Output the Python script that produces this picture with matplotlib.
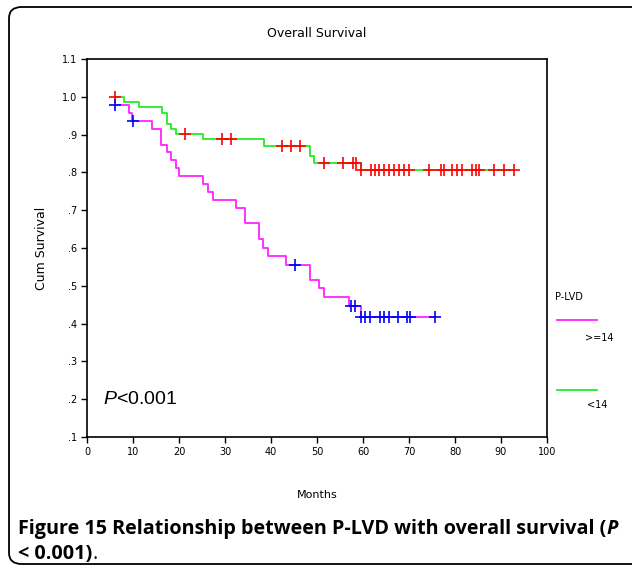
import numpy as np
import matplotlib
matplotlib.use('Agg')
import matplotlib.pyplot as plt
from matplotlib.patches import FancyBboxPatch
from matplotlib.lines import Line2D

# Kaplan-Meier steps, P-LVD < 14 (green)
lo_times = [6.0, 8.1, 11.3, 16.2, 17.3, 18.2, 19.3, 25.3, 38.5, 48.5, 49.3, 59.6]
lo_surv = [1.0, 0.986, 0.972, 0.958, 0.929, 0.916, 0.902, 0.888, 0.870, 0.843, 0.825, 0.807]
lo_end = 92.8
lo_censor = [6.0, 21.2, 29.3, 31.2, 42.4, 44.4, 46.4, 51.5, 55.6, 57.8, 58.5,
             59.6, 61.7, 62.6, 63.5, 64.6, 65.7, 66.7, 67.9, 68.9, 70.0,
             74.4, 76.9, 77.6, 79.4, 80.5, 81.6, 83.8, 84.5, 85.3, 88.5, 90.7, 92.8]

# Kaplan-Meier steps, P-LVD >= 14 (magenta)
hi_times = [6.0, 9.2, 9.7, 14.1, 16.1, 17.3, 18.3, 19.3, 20.1, 25.3, 26.4, 27.3,
            32.4, 34.3, 37.4, 38.3, 39.3, 43.3, 48.5, 50.5, 51.6, 57.0, 59.5]
hi_surv = [0.979, 0.957, 0.937, 0.915, 0.873, 0.853, 0.833, 0.811, 0.791, 0.769,
           0.749, 0.728, 0.707, 0.666, 0.624, 0.600, 0.578, 0.556, 0.516, 0.494,
           0.470, 0.447, 0.417]
hi_end = 75.7
hi_censor = [6.0, 10.0, 45.2, 57.3, 58.3, 59.5, 60.5, 61.5, 63.7, 64.6, 65.6,
             67.6, 69.5, 70.3, 75.7]

yticks = [0.1, 0.2, 0.3, 0.4, 0.5, 0.6, 0.7, 0.8, 0.9, 1.0, 1.1]
ytick_labels = ['.1', '.2', '.3', '.4', '.5', '.6', '.7', '.8', '.9', '1.0', '1.1']
xticks = list(range(0, 101, 10))

GREEN = '#22ee22'
MAGENTA = '#ff22ff'

plt.rcParams['mathtext.fontset'] = 'custom'
plt.rcParams['mathtext.it'] = 'Liberation Sans:italic'
plt.rcParams['mathtext.rm'] = 'Liberation Sans'

fig = plt.figure(figsize=(6.32, 5.68), dpi=100)
ax = fig.add_axes([0.1377, 0.2306, 0.7278, 0.6655])


def km(times, surv, end, censor, color, mcolor):
    t = list(times) + [end]
    s = list(surv) + [surv[-1]]
    ax.step(t, s, where='post', color=color, lw=1.3, zorder=2)
    idx = np.searchsorted(times, censor, side='right') - 1
    ax.plot(censor, np.array(surv)[idx], '+', color=mcolor, ms=8, mew=1.2, zorder=3)


km(lo_times, lo_surv, lo_end, lo_censor, GREEN, 'red')
km(hi_times, hi_surv, hi_end, hi_censor, MAGENTA, 'blue')

ax.set_xlim(0, 100)
ax.set_ylim(0.1, 1.1)
ax.set_xticks(xticks)
ax.set_yticks(yticks)
ax.set_yticklabels(ytick_labels)
ax.tick_params(labelsize=7, length=4, width=1, pad=3)
for sp in ax.spines.values():
    sp.set_linewidth(1.2)

ax.set_title('Overall Survival', fontsize=9, pad=16)
ax.set_ylabel('Cum Survival', fontsize=9, labelpad=10)
ax.set_xlabel('Months', fontsize=8, labelpad=24)

ax.text(3.5, 0.2, r'$\it{P}$<0.001', fontsize=14, family='Liberation Sans',
        va='center', ha='left')

# legend drawn to the right of the plot
fig.text(555 / 632, 1 - 297 / 568, 'P-LVD', fontsize=7, va='center')
fig.add_artist(Line2D([557 / 632, 597 / 632], [1 - 320 / 568] * 2, color=MAGENTA, lw=1.3))
fig.text(585 / 632, 1 - 338 / 568, '>=14', fontsize=7, va='center')
fig.add_artist(Line2D([557 / 632, 597 / 632], [1 - 390 / 568] * 2, color=GREEN, lw=1.3))
fig.text(587 / 632, 1 - 405 / 568, '<14', fontsize=7, va='center')

# rounded frame
fig.patches.append(FancyBboxPatch((9 / 632, 4 / 568), 640 / 632, 557 / 568,
                                  boxstyle='round,pad=0,rounding_size=0.02',
                                  transform=fig.transFigure, fill=False,
                                  ec='black', lw=1.3, clip_on=False))

# caption
CAP = 14.2
t1 = fig.text(18 / 632, 1 - 534 / 568,
              'Figure 15 Relationship between P-LVD with overall survival (',
              fontsize=CAP, family='Open Sans', weight='bold', va='baseline')
plt.annotate('P', xy=(1, 0), xycoords=t1, va='bottom', ha='left',
             fontsize=CAP, family='Open Sans', weight='bold', style='italic',
             annotation_clip=False)
t2 = fig.text(18 / 632, 1 - 559 / 568, '< 0.001)', fontsize=CAP,
              family='Open Sans', weight='bold', va='baseline')
plt.annotate('.', xy=(1, 0), xycoords=t2, va='bottom', ha='left',
             fontsize=CAP, family='Open Sans', annotation_clip=False)

fig.savefig('out.png', dpi=100)
